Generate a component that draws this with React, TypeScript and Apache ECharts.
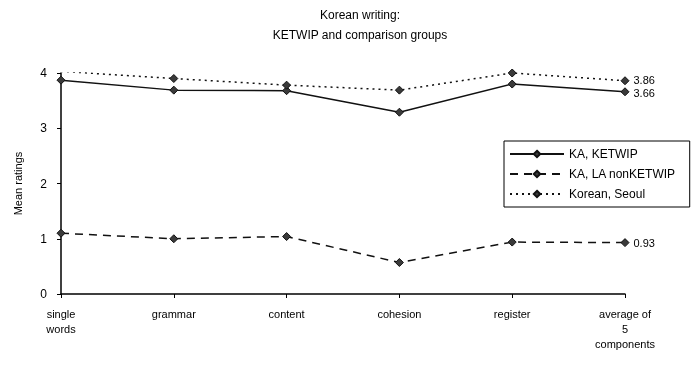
import React, { useEffect, useRef } from "react";
import * as echarts from "echarts";

const categories = ["single\nwords", "grammar", "content", "cohesion", "register", "average of\n5\ncomponents"];
const seriesNames = ["KA, KETWIP", "KA, LA nonKETWIP", "Korean, Seoul"];
const kaKetwip = [3.87, 3.69, 3.68, 3.29, 3.8, 3.66];
const kaLaNonKetwip = [1.1, 1.0, 1.04, 0.57, 0.94, 0.93];
const koreanSeoul = [4.03, 3.9, 3.78, 3.69, 4.0, 3.86];
const yTicks = [0, 1, 2, 3, 4];

const FONT = "Liberation Sans, Arial, sans-serif";

export default function App() {
  const ref = useRef<HTMLDivElement>(null);
  useEffect(() => {
    if (!ref.current) return;
    const chart = echarts.init(ref.current, null, { renderer: "svg" });
    const last = categories.length - 1;
    const mk = (name: string, data: number[], type: any, width: number, dy: number) => ({
      name,
      type: "line",
      data,
      symbol: "diamond",
      symbolSize: 8,
      itemStyle: { color: "#3a3a3a", borderColor: "#111", borderWidth: 1 },
      lineStyle: { color: "#111", width, type },
      label: {
        show: true,
        position: "right",
        distance: 4,
        offset: [0, dy],
        fontFamily: FONT,
        fontSize: 11,
        color: "#000",
        formatter: (p: any) => (p.dataIndex === last ? p.value.toFixed(2) : ""),
      },
    });
    chart.setOption({
      animation: false,
      textStyle: { fontFamily: FONT },
      title: {
        text: "Korean writing:\nKETWIP and comparison groups",
        left: 355,
        textAlign: "center",
        top: 0,
        textStyle: { fontFamily: FONT, fontSize: 12, fontWeight: "normal", color: "#000", lineHeight: 20 },
      },
      legend: {
        orient: "vertical",
        left: 504,
        top: 141,
        itemWidth: 54,
        itemHeight: 8,
        itemGap: 8,
        padding: [7, 14, 7, 5],
        borderColor: "#000",
        borderWidth: 1,
        textStyle: { fontFamily: FONT, fontSize: 12, color: "#000" },
        data: seriesNames,
      },
      grid: { left: 61, right: 71, top: 73, bottom: 74 },
      xAxis: {
        type: "category",
        data: categories,
        boundaryGap: false,
        axisLine: { lineStyle: { color: "#000", width: 1.5 } },
        axisTick: { show: true, length: 4, inside: false, lineStyle: { color: "#000" } },
        axisLabel: { color: "#000", fontFamily: FONT, fontSize: 11, lineHeight: 15, margin: 12, interval: 0 },
        splitLine: { show: false },
      },
      yAxis: {
        type: "value",
        min: yTicks[0],
        max: yTicks[yTicks.length - 1],
        interval: 1,
        name: "Mean ratings",
        nameLocation: "middle",
        nameGap: 38,
        nameTextStyle: { fontFamily: FONT, fontSize: 11, color: "#000" },
        axisLine: { show: true, lineStyle: { color: "#000", width: 1.5 } },
        axisTick: { show: true, length: 4, lineStyle: { color: "#000" } },
        axisLabel: { color: "#000", fontFamily: FONT, fontSize: 12, margin: 14 },
        splitLine: { show: false },
      },
      series: [
        mk(seriesNames[0], kaKetwip, "solid", 1.5, 1),
        mk(seriesNames[1], kaLaNonKetwip, [8, 6], 1.5, 0),
        mk(seriesNames[2], koreanSeoul, [2, 4], 1.5, -1),
      ],
    });
    return () => chart.dispose();
  }, []);
  return <div ref={ref} style={{ position: "fixed", left: 0, top: 0, width: 696, height: 368 }} />;
}
